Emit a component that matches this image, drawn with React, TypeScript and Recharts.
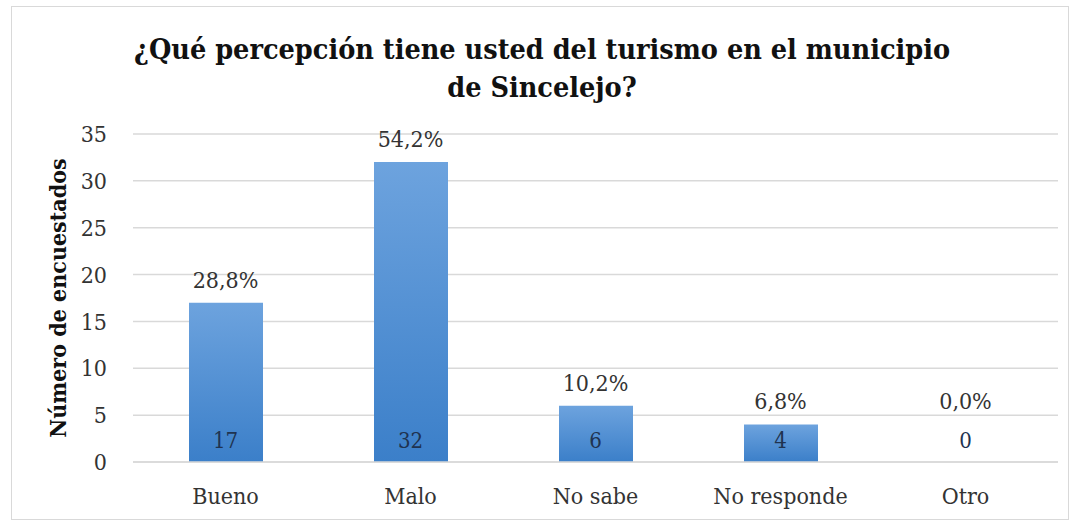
import { ComposedChart, Bar, Line, XAxis, YAxis, CartesianGrid, LabelList } from "recharts";

const categories = ["Bueno", "Malo", "No sabe", "No responde", "Otro"];
const counts = [17, 32, 6, 4, 0];
const percents = ["28,8%", "54,2%", "10,2%", "6,8%", "0,0%"];
const yTicks = [0, 5, 10, 15, 20, 25, 30, 35];

const data = categories.map((name, i) => ({
    name,
    count: counts[i],
    pct: percents[i],
}));

const FONT = "'DejaVu Serif Condensed', 'DejaVu Serif'";
const BASE_Y = 462;

// labels drawn from a hidden line so the zero bar still gets them
function PointLabels(props: any) {
    const { x, y, index } = props;
    const top = Math.min(y, BASE_Y - 38);
    return (
        <g>
            <text
                x={x}
                y={top - 15}
                textAnchor="middle"
                style={{ fontFamily: FONT, fontStretch: "condensed", fontSize: 23, fill: "#333" }}
            >
                {percents[index]}
            </text>
            <text
                x={x}
                y={BASE_Y - 14}
                textAnchor="middle"
                style={{ fontFamily: FONT, fontStretch: "condensed", fontSize: 22, fill: "#1f3350" }}
            >
                {counts[index]}
            </text>
        </g>
    );
}

function App() {
    const tickStyle = { fontFamily: FONT, fontStretch: "condensed", fontSize: 23, fill: "#333" };
    return (
        <div
            style={{
                position: "absolute",
                left: 0,
                top: 0,
                width: 1074,
                height: 525,
                background: "#fff",
                fontFamily: FONT,
            }}
        >
            <div
                style={{
                    position: "absolute",
                    left: 11,
                    top: 6,
                    width: 1056,
                    height: 512,
                    border: "1px solid #d9d9d9",
                }}
            />
            <div
                style={{
                    position: "absolute",
                    left: 0,
                    top: 30,
                    width: 1084,
                    textAlign: "center",
                    fontWeight: "bold",
                    fontStretch: "condensed",
                    fontSize: 28.5,
                    lineHeight: "38px",
                    color: "#111",
                }}
            >
                ¿Qué percepción tiene usted del turismo en el municipio
                <br />
                de Sincelejo?
            </div>
            <ComposedChart
                width={1074}
                height={525}
                data={data}
                margin={{ top: 134, right: 16, bottom: 0, left: 0 }}
                style={{ position: "absolute", left: 0, top: 0 }}
            >
                <defs>
                    <linearGradient id="barGrad" x1="0" y1="0" x2="0" y2="1">
                        <stop offset="0%" stopColor="#6da3de" />
                        <stop offset="100%" stopColor="#3b7fc9" />
                    </linearGradient>
                </defs>
                <CartesianGrid vertical={false} stroke="#d9d9d9" strokeWidth={1.5} />
                <XAxis
                    dataKey="name"
                    height={63}
                    axisLine={{ stroke: "#d9d9d9", strokeWidth: 1.5 }}
                    tickLine={false}
                    tick={tickStyle}
                    tickMargin={20}
                />
                <YAxis
                    width={133}
                    domain={[0, 35]}
                    ticks={yTicks}
                    axisLine={false}
                    tickLine={false}
                    tick={tickStyle}
                    tickMargin={20}
                    label={{
                        value: "Número de encuestados",
                        angle: -90,
                        position: "insideLeft",
                        offset: 58,
                        style: {
                            fontFamily: FONT,
                            fontStretch: "condensed",
                            fontSize: 23,
                            fontWeight: "bold",
                            fill: "#111",
                            textAnchor: "middle",
                        },
                    }}
                />
                <Bar dataKey="count" fill="url(#barGrad)" barSize={74} isAnimationActive={false} />
                <Line
                    dataKey="count"
                    stroke="none"
                    dot={false}
                    activeDot={false}
                    isAnimationActive={false}
                >
                    <LabelList dataKey="count" content={PointLabels} />
                </Line>
            </ComposedChart>
        </div>
    );
}

export default App;
